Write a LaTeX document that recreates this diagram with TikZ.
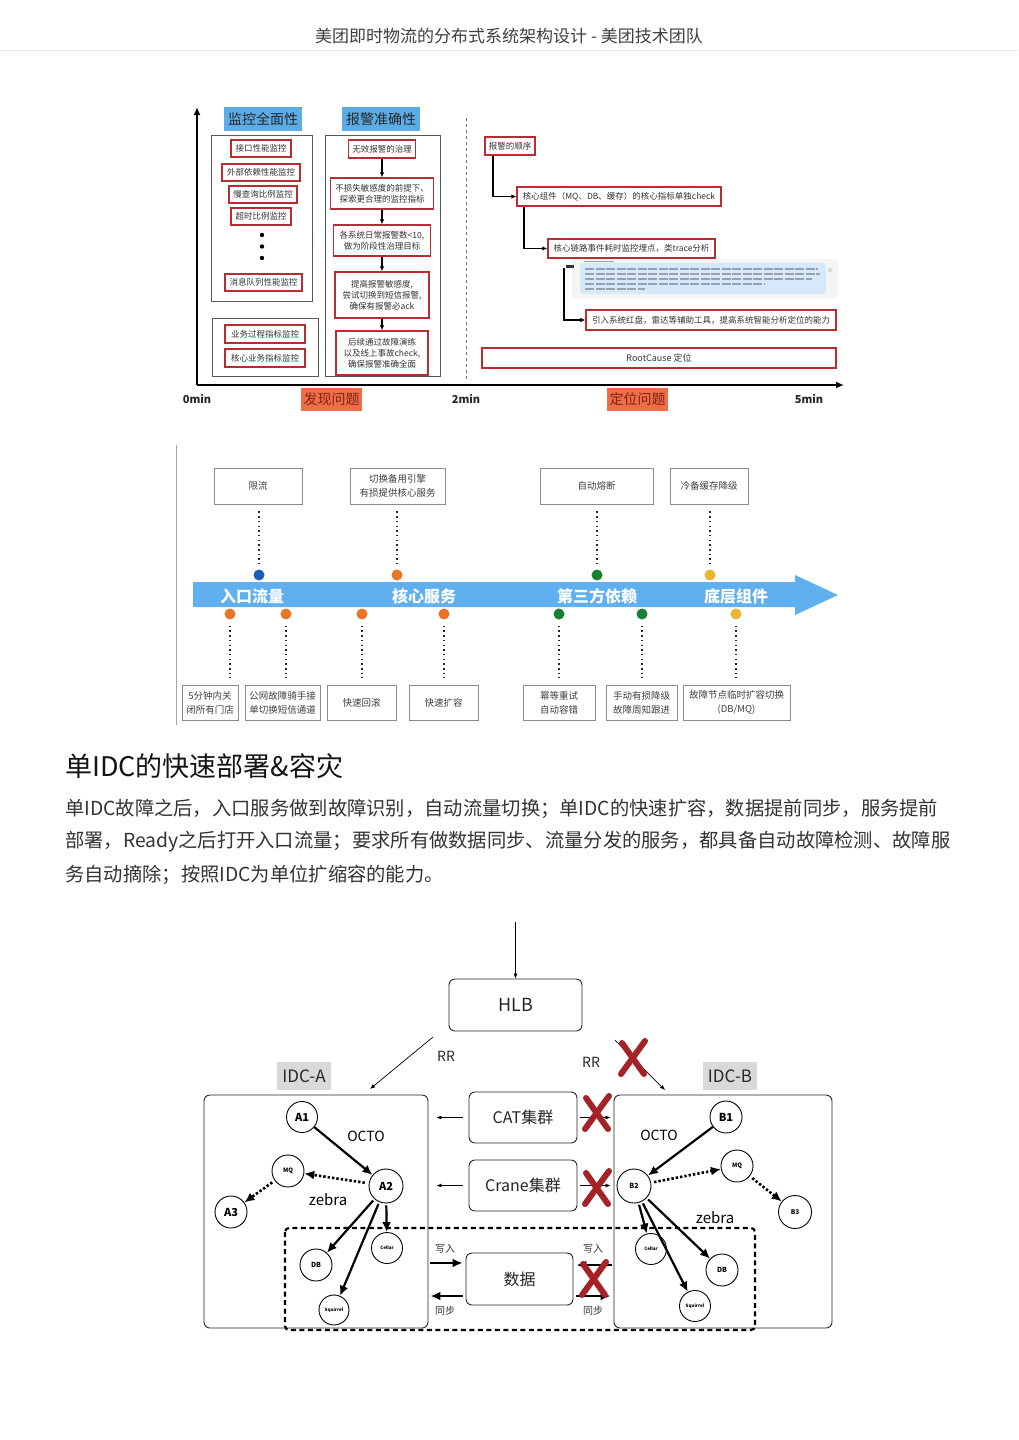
\documentclass[tikz,border=0pt]{standalone}
\usepackage{fontspec}
\setmainfont{Noto Sans CJK SC}
\usetikzlibrary{arrows.meta}
\definecolor{redb}{RGB}{185,45,50}
\definecolor{lblue}{RGB}{92,172,232}
\definecolor{arrowblue}{RGB}{96,176,240}
\definecolor{orng}{RGB}{242,108,72}
\definecolor{orngtext}{RGB}{120,38,22}
\definecolor{dotblue}{RGB}{25,95,185}
\definecolor{dotorange}{RGB}{232,118,40}
\definecolor{dotgreen}{RGB}{25,130,50}
\definecolor{dotyellow}{RGB}{232,182,50}
\definecolor{xred}{RGB}{165,35,40}
\definecolor{tracebg}{RGB}{214,232,250}
\newcommand{\fs}[2]{\fontsize{#1}{#2}\selectfont}
\tikzset{
  redbox/.style={draw=redb, line width=1.3pt, fill=white, align=center, inner sep=0pt, font=\fs{8.5}{11}, text=black!80},
  grayframe/.style={draw=black!65, line width=0.9pt},
  bluelab/.style={fill=lblue, inner sep=0pt, minimum width=78pt, minimum height=24pt, font=\fs{14}{16}, text=black!85},
  orlab/.style={fill=orng, inner sep=0pt, minimum width=61pt, minimum height=23pt, font=\fs{14}{16}, text=orngtext},
  axislab/.style={font=\bfseries\fs{11}{12}, text=black!85},
  flowarrow/.style={line width=1.4pt, -{Latex[length=5pt,width=4.5pt]}},
  tlbox/.style={draw=black!45, line width=0.8pt, fill=white, align=center, inner sep=0pt, font=\fs{9.5}{14}, text=black!75},
  tllab/.style={font=\bfseries\fs{16}{18}, text=white},
  dotline/.style={line width=1.5pt, dash pattern=on 1.5pt off 3.2pt, black!85},
  tdot/.style={circle, inner sep=0pt, minimum size=11pt},
  rbox/.style={draw=black!85, line width=0.9pt, rounded corners=6pt, fill=white, inner sep=0pt, font=\fs{16}{18}, text=black!85},
  circ/.style={circle, draw=black, line width=0.9pt, inner sep=0pt, minimum size=32pt, fill=white, font=\bfseries\fs{11}{12}},
  fatarrow/.style={line width=2.2pt, -{Latex[length=10pt,width=9pt]}},
  dotarrow/.style={line width=2.6pt, dash pattern=on 2.4pt off 2pt, -{Latex[length=10pt,width=9pt]}},
  thinarrow/.style={line width=0.7pt, -{Latex[length=5pt,width=4pt]}},
  idclab/.style={fill=black!15, inner sep=0pt, minimum width=54pt, minimum height=28pt, font=\fs{17}{19}, text=black!85},
  redx/.pic={
    \draw[xred, line width=6pt, line cap=round] (-11,-15) -- (11,16);
    \draw[xred, line width=6pt, line cap=round] (12,-17) -- (-12,16);
  }
}
\begin{document}
\begin{tikzpicture}[x=1pt,y=-1pt]
\useasboundingbox (0,0) rectangle (1018,1440);
\fill[white] (0,0) rectangle (1018,1440);

% header
\node[font=\fs{17}{19}, text=black!75] (title) at (509,36) {美团即时物流的分布式系统架构设计 - 美团技术团队};
\draw[black!10, line width=1pt] (0,50) -- (1018,50);

% ================= top chart =================
\coordinate (origin) at (197,385);
\coordinate (ytop) at (197,107);
\coordinate (xend) at (844,385);
\draw[line width=2pt, -{Latex[length=8pt,width=7pt]}] (origin) -- (ytop);
\draw[line width=2pt, -{Latex[length=8pt,width=7pt]}] (origin) -- (xend);
\coordinate (dtop) at (466,118);
\coordinate (dbot) at (466,382);
\draw[black!55, line width=0.7pt, dash pattern=on 3pt off 3pt] (dtop) -- (dbot);

\node[axislab] (m0) at (197,399) {0min};
\node[axislab] (m2) at (466,399) {2min};
\node[axislab] (m5) at (809,399) {5min};
\node[orlab] (fx) at (331.5,399.5) {发现问题};
\node[orlab] (dw) at (637.5,399.5) {定位问题};

\node[bluelab] (jk) at (263,119) {监控全面性};
\node[bluelab] (bj) at (381,119) {报警准确性};

\draw[grayframe] (211,135) rectangle (312,301);
\draw[grayframe] (212,318) rectangle (318,376);
\draw[grayframe] (325,135) rectangle (440,376);

\node[redbox, minimum width=60pt, minimum height=17pt] (r1) at (261,148.5) {接口性能监控};
\node[redbox, minimum width=78pt, minimum height=17pt] (r2) at (261,172.5) {外部依赖性能监控};
\node[redbox, minimum width=68pt, minimum height=17pt] (r3) at (263,194.5) {慢查询比例监控};
\node[redbox, minimum width=60pt, minimum height=17pt] (r4) at (261,216.5) {超时比例监控};
\fill (262,235) circle (2.2pt);
\fill (262,246.5) circle (2.2pt);
\fill (262,258) circle (2.2pt);
\node[redbox, minimum width=77pt, minimum height=17pt] (r5) at (263.5,282.5) {消息队列性能监控};
\node[redbox, minimum width=80pt, minimum height=18pt] (r6) at (265,334) {业务过程指标监控};
\node[redbox, minimum width=80pt, minimum height=18pt] (r7) at (265,358) {核心业务指标监控};

\node[redbox, minimum width=67pt, minimum height=18pt] (s1) at (382,149) {无效报警的治理};
\node[redbox, minimum width=103pt, minimum height=31pt] (s2) at (382,193.5) {不损失敏感度的前提下、\\探索更合理的监控指标};
\node[redbox, minimum width=97pt, minimum height=31pt] (s3) at (382,240.5) {各系统日常报警数<10,\\做为阶段性治理目标};
\node[redbox, minimum width=94pt, minimum height=46pt] (s4) at (382,295) {提高报警敏感度,\\尝试切换到短信报警,\\确保有报警必ack};
\node[redbox, minimum width=92pt, minimum height=44pt] (s5) at (382,353) {后续通过故障演练\\以及线上事故check,\\确保报警准确全面};
\draw[flowarrow] (s1) -- (s2);
\draw[flowarrow] (s2) -- (s3);
\draw[flowarrow] (s3) -- (s4);
\draw[flowarrow] (s4) -- (s5);

\node[redbox, minimum width=50pt, minimum height=18pt] (t1) at (510,146) {报警的顺序};
\node[redbox, minimum width=204pt, minimum height=19pt] (t2) at (619,196.5) {核心组件（MQ、DB、缓存）的核心指标单独check};
\node[redbox, minimum width=167pt, minimum height=19pt] (t3) at (631.5,248.5) {核心链路事件耗时监控埋点，类trace分析};
\node[redbox, minimum width=250pt, minimum height=20pt] (t4) at (711,320) {引入系统红盘，雷达等辅助工具，提高系统智能分析定位的能力};
\node[redbox, minimum width=354pt, minimum height=20pt, font=\fs{9}{11}] (t5) at (659,358) {RootCause 定位};
\draw[flowarrow] ([xshift=-17pt]t1.south) |- (t2.west);
\draw[flowarrow] ([xshift=-95pt]t2.south) |- (t3.west);

% trace screenshot
\fill[black!4, rounded corners=2pt] (572,259) rectangle (838,298);
\fill[tracebg, rounded corners=3pt] (580,263) rectangle (826,294);
\fill[black!80] (566,265) rectangle (574,268);
\draw[black!35, line width=0.8pt] (584,261) -- (614,261);
\foreach \yy/\xe in {269/818, 274/820, 279/812, 284/765, 289/645}
  \draw[black!30!tracebg, line width=1.4pt, dash pattern=on 9pt off 1.5pt] (585,\yy) -- (\xe,\yy);
\fill[black!15] (830,270) circle (2.5pt);
\coordinate (icon) at (564,268);
\draw[flowarrow] (icon) |- (t4.west);

% ================= middle timeline =================
\coordinate (vl1) at (176,445);
\coordinate (vl2) at (176,725);
\draw[black!35, line width=0.8pt] (vl1) -- (vl2);
\fill[arrowblue] (193,582) -- (795,582) -- (795,575) -- (838,595) -- (795,615) -- (795,607) -- (193,607) -- cycle;
\node[tllab] (l1) at (252,596) {入口流量};
\node[tllab] (l2) at (424,596) {核心服务};
\node[tllab] (l3) at (597,596) {第三方依赖};
\node[tllab] (l4) at (736,596) {底层组件};

\node[tlbox, minimum width=88pt, minimum height=36pt] (u1) at (258,486) {限流};
\node[tlbox, minimum width=95pt, minimum height=36pt] (u2) at (397.5,486) {切换备用引擎\\有损提供核心服务};
\node[tlbox, minimum width=113pt, minimum height=36pt] (u3) at (596.5,486) {自动熔断};
\node[tlbox, minimum width=78pt, minimum height=36pt] (u4) at (709,486) {冷备缓存降级};

\node[tdot, fill=dotblue] (d1) at (259,575) {};
\node[tdot, fill=dotorange] (d2) at (397,575) {};
\node[tdot, fill=dotgreen] (d3) at (597,575) {};
\node[tdot, fill=dotyellow] (d4) at (710,575) {};
\draw[dotline] ([yshift=-7pt]u1.south -| d1) -- ([yshift=6pt]d1.north);
\draw[dotline] ([yshift=-7pt]u2.south -| d2) -- ([yshift=6pt]d2.north);
\draw[dotline] ([yshift=-7pt]u3.south -| d3) -- ([yshift=6pt]d3.north);
\draw[dotline] ([yshift=-7pt]u4.south -| d4) -- ([yshift=6pt]d4.north);

\node[tlbox, minimum width=56pt, minimum height=35pt] (v1) at (210,702.5) {5分钟内关\\闭所有门店};
\node[tlbox, minimum width=75pt, minimum height=35pt] (v2) at (282.5,702.5) {公网故障骑手接\\单切换短信通道};
\node[tlbox, minimum width=69pt, minimum height=35pt] (v3) at (361.5,702.5) {快速回滚};
\node[tlbox, minimum width=69pt, minimum height=35pt] (v4) at (443.5,702.5) {快速扩容};
\node[tlbox, minimum width=72pt, minimum height=35pt] (v5) at (559,702.5) {幂等重试\\自动容错};
\node[tlbox, minimum width=71pt, minimum height=35pt] (v6) at (641.5,702.5) {手动有损降级\\故障周知跟进};
\node[tlbox, minimum width=107pt, minimum height=35pt] (v7) at (736.5,702.5) {故障节点临时扩容切换\\(DB/MQ)};

\node[tdot, fill=dotorange] (e1) at (230,614) {};
\node[tdot, fill=dotorange] (e2) at (286,614) {};
\node[tdot, fill=dotorange] (e3) at (362,614) {};
\node[tdot, fill=dotorange] (e4) at (444,614) {};
\node[tdot, fill=dotgreen] (e5) at (559,614) {};
\node[tdot, fill=dotgreen] (e6) at (642,614) {};
\node[tdot, fill=dotyellow] (e7) at (736,614) {};
\foreach \e/\v in {e1/v1,e2/v2,e3/v3,e4/v4,e5/v5,e6/v6,e7/v7}
  \draw[dotline] ([yshift=-6pt]\e.south) -- ([yshift=7pt]\v.north -| \e);

% ================= text section =================
\node[anchor=west, font=\fs{27}{30}, text=black!92, inner sep=0pt] (h) at (65,766) {单IDC的快速部署\&容灾};
\node[anchor=west, font=\fs{19.3}{22}, text=black!80, inner sep=0pt] (p1) at (65,809) {单IDC故障之后，入口服务做到故障识别，自动流量切换；单IDC的快速扩容，数据提前同步，服务提前};
\node[anchor=west, font=\fs{19.3}{22}, text=black!80, inner sep=0pt] (p2) at (65,842) {部署，Ready之后打开入口流量；要求所有做数据同步、流量分发的服务，都具备自动故障检测、故障服};
\node[anchor=west, font=\fs{19.3}{22}, text=black!80, inner sep=0pt] (p3) at (65,875) {务自动摘除；按照IDC为单位扩缩容的能力。};

% ================= bottom diagram =================
\coordinate (in) at (515.5,922);
\node[rbox, minimum width=133pt, minimum height=52pt, font=\fs{18}{20}] (hlb) at (515.5,1005) {HLB};
\draw[thinarrow] (in) -- (hlb.north);

\node[idclab] (la) at (304,1076) {IDC-A};
\node[idclab] (lb) at (730,1076) {IDC-B};
\node[draw=black!85, line width=0.9pt, rounded corners=6pt, minimum width=224pt, minimum height=233pt, inner sep=0pt] (idca) at (316,1211.5) {};
\node[draw=black!85, line width=0.9pt, rounded corners=6pt, minimum width=218pt, minimum height=233pt, inner sep=0pt] (idcb) at (723,1211.5) {};

\coordinate (rra1) at (433,1037);
\coordinate (rra2) at (370,1089);
\coordinate (rrb1) at (615,1040);
\coordinate (rrb2) at (665,1090);
\draw[thinarrow] (rra1) -- (rra2);
\draw[thinarrow] (rrb1) -- (rrb2);
\node[font=\fs{14}{16}, text=black!85] (rrl) at (446,1056) {RR};
\node[font=\fs{14}{16}, text=black!85] (rrr) at (591,1062) {RR};
\pic at (633,1058) {redx};

\node[rbox, minimum width=108pt, minimum height=51pt] (cat) at (523,1117.5) {CAT集群};
\node[rbox, minimum width=108pt, minimum height=51pt] (crane) at (523,1185.5) {Crane集群};
\node[rbox, minimum width=107pt, minimum height=52pt] (data) at (519.5,1279) {数据};

\draw[thinarrow, shorten <=6pt, shorten >=8pt] (cat.west) -- (idca.east |- cat.west);
\draw[thinarrow, shorten <=6pt, shorten >=8pt] (crane.west) -- (idca.east |- crane.west);
\draw[thinarrow, shorten <=3pt, shorten >=3pt] (cat.east) -- (idcb.west |- cat.east);
\draw[thinarrow, shorten <=3pt, shorten >=3pt] (crane.east) -- (idcb.west |- crane.east);
\pic at (597,1113) {redx};
\pic at (597,1188) {redx};

% dashed data area
\draw[line width=2.2pt, dash pattern=on 5pt off 3.5pt, rounded corners=4pt] (285,1228) rectangle (755,1330);

\coordinate (w1) at ([yshift=16pt]data.west);
\coordinate (w2) at ([yshift=-17pt]data.west);
\coordinate (w3) at ([yshift=14pt]data.east);
\coordinate (w4) at ([yshift=-17pt]data.east);
\draw[fatarrow, shorten <=2pt, shorten >=3pt] (idca.east |- w1) -- (w1);
\draw[fatarrow, shorten <=3pt, shorten >=2pt] (w2) -- (idca.east |- w2);
\draw[fatarrow, shorten <=2pt, shorten >=3pt] (idcb.west |- w3) -- (w3);
\draw[fatarrow, shorten <=3pt, shorten >=3pt] (w4) -- (idcb.west |- w4);
\node[font=\fs{10}{12}, text=black!80] (wl1) at (445,1249) {写入};
\node[font=\fs{10}{12}, text=black!80] (wl2) at (445,1311) {同步};
\node[font=\fs{10}{12}, text=black!80] (wl3) at (593,1249) {写入};
\node[font=\fs{10}{12}, text=black!80] (wl4) at (593,1311) {同步};
\pic at (594,1279) {redx};

% IDC-A nodes
\node[circ, minimum size=31pt] (a1) at (302,1117) {A1};
\node[circ, minimum size=34pt] (a2) at (386,1186) {A2};
\node[circ, font=\bfseries\fs{6}{7}] (amq) at (288,1171) {MQ};
\node[circ] (a3) at (231,1212) {A3};
\node[circ, font=\bfseries\fs{7}{8}] (adb) at (316,1265) {DB};
\node[circ, minimum size=31pt, font=\bfseries\fs{4.5}{5}] (acel) at (387,1248) {Cellar};
\node[circ, minimum size=30pt, font=\bfseries\fs{4.5}{5}] (asq) at (334,1310) {Squirrel};
\node[font=\fs{14}{16}] (octoa) at (366,1136) {OCTO};
\node[font=\fs{15}{17}] (zebraa) at (328,1200) {zebra};
\draw[fatarrow] (a1) -- (a2);
\draw[dotarrow, shorten <=4pt] (a2) -- (amq);
\draw[dotarrow, shorten <=3pt] (amq) -- (a3);
\draw[fatarrow, shorten <=2pt] (a2) -- (adb);
\draw[fatarrow, shorten <=2pt] (a2) -- (asq);
\draw[fatarrow, shorten <=2pt] (a2) -- (acel);

% IDC-B nodes
\node[circ] (b1) at (726,1117) {B1};
\node[circ, minimum size=34pt, font=\bfseries\fs{7}{8}] (b2) at (634,1186) {B2};
\node[circ, font=\bfseries\fs{6}{7}] (bmq) at (737,1166) {MQ};
\node[circ, minimum size=33pt, font=\bfseries\fs{6.5}{7}] (b3) at (795,1212) {B3};
\node[circ, minimum size=31pt, font=\bfseries\fs{4.5}{5}] (bcel) at (651,1249) {Cellar};
\node[circ, font=\bfseries\fs{7}{8}] (bdb) at (722,1270) {DB};
\node[circ, minimum size=31pt, font=\bfseries\fs{4.5}{5}] (bsq) at (695,1306) {Squirrel};
\node[font=\fs{14}{16}] (octob) at (659,1135) {OCTO};
\node[font=\fs{15}{17}] (zebrab) at (715,1218) {zebra};
\draw[fatarrow] (b1) -- (b2);
\draw[dotarrow, shorten <=3pt] (b2) -- (bmq);
\draw[dotarrow, shorten <=3pt] (bmq) -- (b3);
\draw[fatarrow, shorten <=2pt] (b2) -- (bcel);
\draw[fatarrow, shorten <=2pt] (b2) -- (bsq);
\draw[fatarrow, shorten <=2pt] (b2) -- (bdb);
\end{tikzpicture}
\end{document}
